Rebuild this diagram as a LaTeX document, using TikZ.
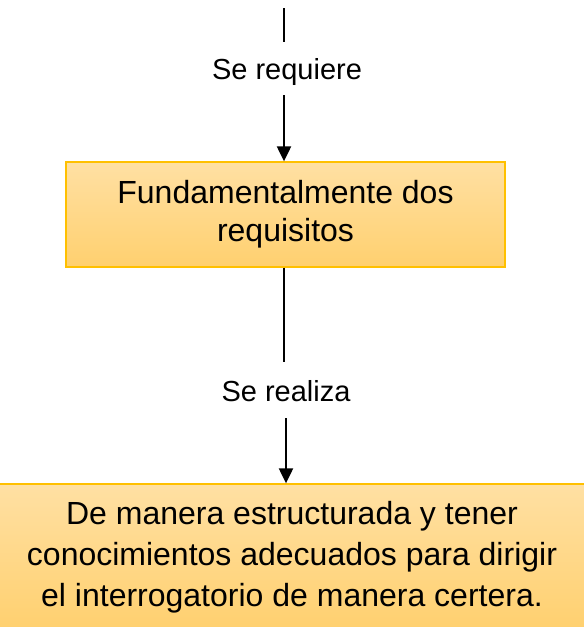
\documentclass[tikz,border=0pt]{standalone}
\usepackage{fontspec}
\setmainfont{Liberation Sans}
\usetikzlibrary{arrows.meta}
\definecolor{boxline}{HTML}{FFC000}
\definecolor{boxtop}{HTML}{FFE0A3}
\definecolor{boxbot}{HTML}{FFD06F}
\begin{document}
\begin{tikzpicture}[x=1pt,y=-1pt,
	caja/.style={draw=boxline,line width=1.3pt,top color=boxtop,bottom color=boxbot,
		align=center,inner sep=0pt},
	rotulo/.style={font=\fontsize{29}{34}\selectfont,inner sep=0pt},
	linea/.style={line width=2.1pt},
	flecha/.style={line width=2.1pt,-{Triangle[length=15pt,width=14pt]}}]
	\useasboundingbox (0,0) rectangle (584,627);

	\coordinate (inicio) at (284,8);
	\node[rotulo] (requiere) at (287,72) {Se requiere};
	\node[caja,minimum width=439pt,minimum height=105pt,
		font=\fontsize{32}{38}\selectfont] (requisitos) at (285.5,214.5)
		{\strut Fundamentalmente dos\\\strut requisitos};
	\node[rotulo] (realiza) at (286,391) {Se realiza};
	\node[caja,minimum width=590pt,minimum height=146pt,
		font=\fontsize{32}{41}\selectfont] (manera) at (292,557)
		{\strut De manera estructurada y tener\\\strut conocimientos adecuados para dirigir\\\strut el interrogatorio de manera certera.};

	\draw[linea] (inicio) -- (284,42);
	\draw[flecha] (284,95) -- (requisitos.north -| 284,0);
	\draw[linea] (requisitos.south -| 284,0) -- (284,362);
	\draw[flecha] (286,418) -- (manera.north -| 286,0);
\end{tikzpicture}
\end{document}
